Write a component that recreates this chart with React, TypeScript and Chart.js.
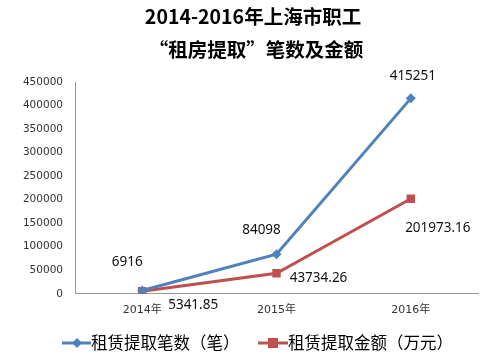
import React, { useEffect, useRef } from "react";
import { Chart, registerables } from "chart.js";

Chart.register(...registerables);

const titleLines = ["2014-2016年上海市职工", "“租房提取”笔数及金额"];
const categories = ["2014年", "2015年", "2016年"];
const countSeriesName = "租赁提取笔数（笔）";
const amountSeriesName = "租赁提取金额（万元）";
const countValues = [6916, 84098, 415251];
const amountValues = [5341.85, 43734.26, 201973.16];
const countLabels = ["6916", "84098", "415251"];
const amountLabels = ["5341.85", "43734.26", "201973.16"];
const yMin = 0;
const yMax = 450000;
const yStep = 50000;

const BLUE = "#4F81BD";
const RED = "#C0504D";

const labelOffsets: Record<number, [number, number][]> = {
  0: [[-15, -28], [-15, -24], [2, -22]],
  1: [[51, 14], [42, 5], [27, 29]],
};

const overlayPlugin = {
  id: "overlay",
  afterDraw(chart: any) {
    const ctx = chart.ctx;
    ctx.save();
    // title
    ctx.fillStyle = "#000";
    ctx.textAlign = "center";
    ctx.textBaseline = "middle";
    ctx.font = "bold 19.5px 'Noto Sans CJK SC', sans-serif";
    ctx.fillText(titleLines[0], 253, 17);
    ctx.fillText(titleLines[1], 256, 50);

    // data labels
    ctx.font = "13.5px 'Noto Sans', 'DejaVu Sans', sans-serif";
    ctx.fillStyle = "#111";
    const allLabels = [countLabels, amountLabels];
    chart.data.datasets.forEach((_: any, di: number) => {
      const meta = chart.getDatasetMeta(di);
      meta.data.forEach((pt: any, i: number) => {
        const [dx, dy] = labelOffsets[di][i];
        ctx.fillText(allLabels[di][i], pt.x + dx, pt.y + dy);
      });
    });

    // legend
    const ly = 343;
    ctx.font = "16.5px 'Noto Sans CJK SC', sans-serif";
    ctx.textAlign = "left";
    // blue
    ctx.strokeStyle = BLUE;
    ctx.lineWidth = 3;
    ctx.beginPath();
    ctx.moveTo(62, ly);
    ctx.lineTo(91, ly);
    ctx.stroke();
    ctx.fillStyle = BLUE;
    ctx.beginPath();
    ctx.moveTo(77, ly - 5);
    ctx.lineTo(82, ly);
    ctx.lineTo(77, ly + 5);
    ctx.lineTo(72, ly);
    ctx.closePath();
    ctx.fill();
    ctx.fillStyle = "#000";
    ctx.fillText(countSeriesName, 91, ly);
    // red
    ctx.strokeStyle = RED;
    ctx.beginPath();
    ctx.moveTo(258, ly);
    ctx.lineTo(288, ly);
    ctx.stroke();
    ctx.fillStyle = RED;
    ctx.fillRect(268, ly - 5, 10, 10);
    ctx.fillStyle = "#000";
    ctx.fillText(amountSeriesName, 288, ly);
    ctx.restore();
  },
};

export default function App() {
  const ref = useRef<HTMLCanvasElement>(null);
  useEffect(() => {
    if (!ref.current) return;
    const chart = new Chart(ref.current, {
      type: "line",
      data: {
        labels: categories,
        datasets: [
          {
            label: countSeriesName,
            data: countValues,
            borderColor: BLUE,
            backgroundColor: BLUE,
            borderWidth: 3,
            pointStyle: "rectRot",
            pointRadius: 5,
            pointBorderWidth: 0,
            tension: 0,
          },
          {
            label: amountSeriesName,
            data: amountValues,
            borderColor: RED,
            backgroundColor: RED,
            borderWidth: 3,
            pointStyle: "rect",
            pointRadius: 6,
            pointBorderWidth: 0,
            tension: 0,
          },
        ],
      },
      options: {
        animation: false,
        responsive: false,
        maintainAspectRatio: false,
        layout: { padding: { top: 82, right: 19, bottom: 31, left: 0 } },
        plugins: {
          legend: { display: false },
          title: { display: false },
          tooltip: { enabled: false },
        },
        scales: {
          x: {
            type: "category",
            offset: true,
            grid: { display: false, drawTicks: false },
            border: { display: true, color: "#999", width: 1 },
            ticks: {
              color: "#333",
              font: { size: 11, family: "'DejaVu Sans', 'Noto Sans CJK SC', sans-serif" },
              padding: 10,
            },
          },
          y: {
            min: yMin,
            max: yMax,
            grid: { display: false, drawTicks: false },
            border: { display: true, color: "#999", width: 1 },
            ticks: {
              stepSize: yStep,
              color: "#333",
              padding: 12,
              font: { size: 10.5, family: "'DejaVu Sans', sans-serif" },
              callback: (v: any) => String(v),
            },
            afterFit: (s: any) => {
              s.width = 75;
            },
          },
        },
      },
      plugins: [overlayPlugin],
    });
    return () => chart.destroy();
  }, []);
  return (
    <div style={{ position: "absolute", left: 0, top: 0, width: 497, height: 358, background: "#fff" }}>
      <canvas ref={ref} width={497} height={358} style={{ width: 497, height: 358 }} />
    </div>
  );
}
